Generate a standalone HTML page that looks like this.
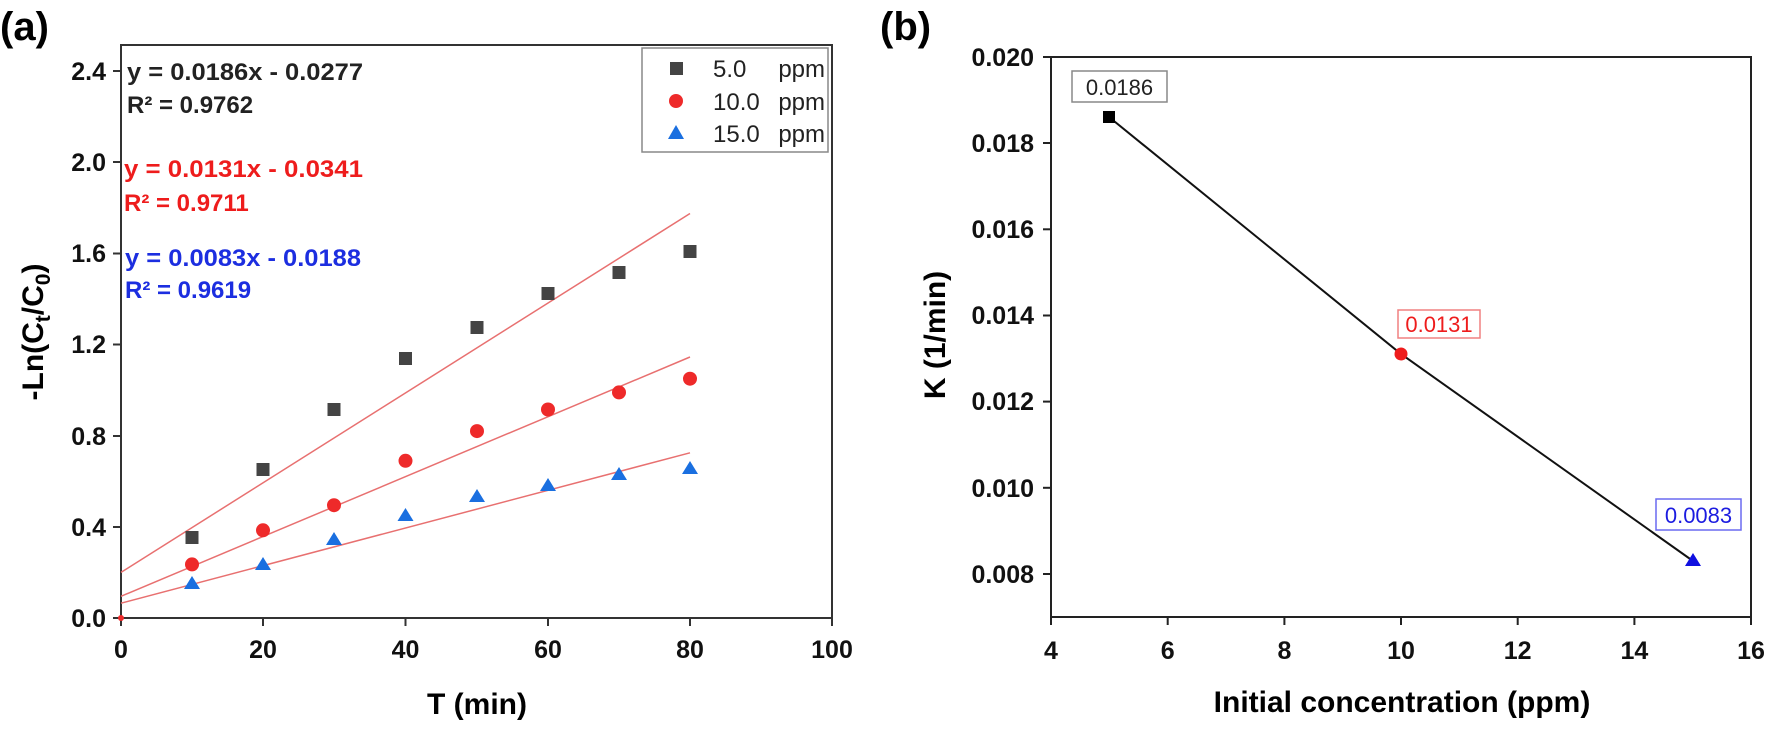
<!DOCTYPE html>
<html><head><meta charset="utf-8"><style>
html,body{margin:0;padding:0;background:#fff;}
svg{display:block;font-family:"Liberation Sans",Arial,sans-serif;}
</style></head><body>
<svg width="1770" height="729" viewBox="0 0 1770 729" xmlns="http://www.w3.org/2000/svg">
<text x="0" y="40" font-size="40" font-weight="bold">(a)</text>
<rect x="121" y="45" width="711" height="573" fill="none" stroke="#333" stroke-width="2"/>
<g stroke="#333" stroke-width="2">
<line x1="121" y1="618" x2="121" y2="626"/><line x1="263" y1="618" x2="263" y2="626"/><line x1="405.5" y1="618" x2="405.5" y2="626"/><line x1="548" y1="618" x2="548" y2="626"/><line x1="690" y1="618" x2="690" y2="626"/><line x1="832" y1="618" x2="832" y2="626"/>
<line x1="113" y1="618" x2="121" y2="618"/><line x1="113" y1="527" x2="121" y2="527"/><line x1="113" y1="436" x2="121" y2="436"/><line x1="113" y1="344.5" x2="121" y2="344.5"/><line x1="113" y1="253.5" x2="121" y2="253.5"/><line x1="113" y1="162" x2="121" y2="162"/><line x1="113" y1="71" x2="121" y2="71"/>
</g>
<g font-size="25" font-weight="bold" text-anchor="middle" fill="#111">
<text x="121" y="658">0</text><text x="263" y="658">20</text><text x="405.5" y="658">40</text><text x="548" y="658">60</text><text x="690" y="658">80</text><text x="832" y="658">100</text>
</g>
<g font-size="25" font-weight="bold" text-anchor="end" fill="#111">
<text x="106" y="627">0.0</text><text x="106" y="536">0.4</text><text x="106" y="445">0.8</text><text x="106" y="353">1.2</text><text x="106" y="262">1.6</text><text x="106" y="171">2.0</text><text x="106" y="80">2.4</text>
</g>
<text x="477" y="714" font-size="30" font-weight="bold" text-anchor="middle">T (min)</text>
<text transform="translate(43,332) rotate(-90)" font-size="30" font-weight="bold" text-anchor="middle">-Ln(C<tspan font-size="21" dy="7">t</tspan><tspan dy="-7">/C</tspan><tspan font-size="21" dy="7">0</tspan><tspan dy="-7">)</tspan></text>
<g stroke="#e87070" stroke-width="1.5">
<line x1="121" y1="572.4" x2="690" y2="213.5"/>
<line x1="121" y1="596.3" x2="690" y2="357"/>
<line x1="121" y1="603.2" x2="690" y2="452.8"/>
</g>
<g fill="#444">
<rect x="185.5" y="531" width="13" height="13"/><rect x="256.5" y="463" width="13" height="13"/><rect x="327.5" y="403" width="13" height="13"/><rect x="399" y="352" width="13" height="13"/><rect x="470.5" y="321" width="13" height="13"/><rect x="541.5" y="287" width="13" height="13"/><rect x="612.5" y="266" width="13" height="13"/><rect x="683.5" y="245" width="13" height="13"/>
</g>
<g fill="#ee2a2a">
<circle cx="121" cy="618" r="3"/>
<circle cx="192" cy="564.4" r="7"/><circle cx="263" cy="530.3" r="7"/><circle cx="334" cy="505.2" r="7"/><circle cx="405.5" cy="460.8" r="7"/><circle cx="477" cy="431.1" r="7"/><circle cx="548" cy="409.5" r="7"/><circle cx="619" cy="392.4" r="7"/><circle cx="690" cy="378.7" r="7"/>
</g>
<g fill="#1a6fe0">
<path d="M192,576l8,13h-16z"/><path d="M263,557l8,13h-16z"/><path d="M334,532l8,13h-16z"/><path d="M405.5,508l8,13h-16z"/><path d="M477,489l8,13h-16z"/><path d="M548,478l8,13h-16z"/><path d="M619,467l8,13h-16z"/><path d="M690,461l8,13h-16z"/>
</g>
<g font-size="24" font-weight="bold">
<text x="127" y="80" fill="#222" textLength="236" lengthAdjust="spacingAndGlyphs">y = 0.0186x - 0.0277</text>
<text x="127" y="113" fill="#222">R² = 0.9762</text>
<text x="124" y="177" fill="#ee1c1c" textLength="239" lengthAdjust="spacingAndGlyphs">y = 0.0131x - 0.0341</text>
<text x="124" y="211" fill="#ee1c1c">R² = 0.9711</text>
<text x="125" y="266" fill="#1c2ee0" textLength="236" lengthAdjust="spacingAndGlyphs">y = 0.0083x - 0.0188</text>
<text x="125" y="298" fill="#1c2ee0">R² = 0.9619</text>
</g>
<rect x="642" y="48" width="186" height="104" fill="#fff" stroke="#888" stroke-width="1.5"/>
<rect x="670" y="62" width="13" height="13" fill="#444"/>
<circle cx="676" cy="101" r="7" fill="#ee2a2a"/>
<path d="M676,125l8,14h-16z" fill="#1a6fe0"/>
<g font-size="24" fill="#222">
<text x="713" y="77">5.0</text><text x="825" y="77" text-anchor="end">ppm</text>
<text x="713" y="110">10.0</text><text x="825" y="110" text-anchor="end">ppm</text>
<text x="713" y="142">15.0</text><text x="825" y="142" text-anchor="end">ppm</text>
</g>

<text x="880" y="40" font-size="40" font-weight="bold">(b)</text>
<rect x="1051" y="57" width="700" height="560" fill="none" stroke="#222" stroke-width="2"/>
<g stroke="#222" stroke-width="2">
<line x1="1051" y1="617" x2="1051" y2="625"/><line x1="1167.7" y1="617" x2="1167.7" y2="625"/><line x1="1284.4" y1="617" x2="1284.4" y2="625"/><line x1="1401" y1="617" x2="1401" y2="625"/><line x1="1517.7" y1="617" x2="1517.7" y2="625"/><line x1="1634.4" y1="617" x2="1634.4" y2="625"/><line x1="1751" y1="617" x2="1751" y2="625"/>
<line x1="1043" y1="57" x2="1051" y2="57"/><line x1="1043" y1="143" x2="1051" y2="143"/><line x1="1043" y1="229.3" x2="1051" y2="229.3"/><line x1="1043" y1="315.5" x2="1051" y2="315.5"/><line x1="1043" y1="401.6" x2="1051" y2="401.6"/><line x1="1043" y1="487.8" x2="1051" y2="487.8"/><line x1="1043" y1="574" x2="1051" y2="574"/>
</g>
<g font-size="25" font-weight="bold" text-anchor="middle" fill="#111">
<text x="1051" y="659">4</text><text x="1167.7" y="659">6</text><text x="1284.4" y="659">8</text><text x="1401" y="659">10</text><text x="1517.7" y="659">12</text><text x="1634.4" y="659">14</text><text x="1751" y="659">16</text>
</g>
<g font-size="25" font-weight="bold" text-anchor="end" fill="#111">
<text x="1034" y="66">0.020</text><text x="1034" y="152">0.018</text><text x="1034" y="238">0.016</text><text x="1034" y="324">0.014</text><text x="1034" y="410">0.012</text><text x="1034" y="497">0.010</text><text x="1034" y="583">0.008</text>
</g>
<text x="1402" y="712" font-size="30" font-weight="bold" text-anchor="middle">Initial concentration (ppm)</text>
<text transform="translate(945,335) rotate(-90)" font-size="30" font-weight="bold" text-anchor="middle">K (1/min)</text>
<polyline points="1109,117 1401,354 1693,561" fill="none" stroke="#111" stroke-width="2"/>
<rect x="1103" y="111" width="12" height="12" fill="#000"/>
<circle cx="1401" cy="354" r="6.5" fill="#ee1c1c"/>
<path d="M1693,553l8,13h-16z" fill="#1010e0"/>
<rect x="1072" y="71" width="95" height="31" fill="#fff" stroke="#888" stroke-width="1.5"/>
<text x="1119.5" y="95" font-size="22" text-anchor="middle" fill="#222">0.0186</text>
<rect x="1398" y="310" width="82" height="28" fill="#fff" stroke="#f08080" stroke-width="1.5"/>
<text x="1439" y="332" font-size="22" text-anchor="middle" fill="#ee1c1c">0.0131</text>
<rect x="1656" y="499" width="85" height="31" fill="#fff" stroke="#6a6af0" stroke-width="1.5"/>
<text x="1698.5" y="523" font-size="22" text-anchor="middle" fill="#1c1ce0">0.0083</text>
</svg>
</body></html>
